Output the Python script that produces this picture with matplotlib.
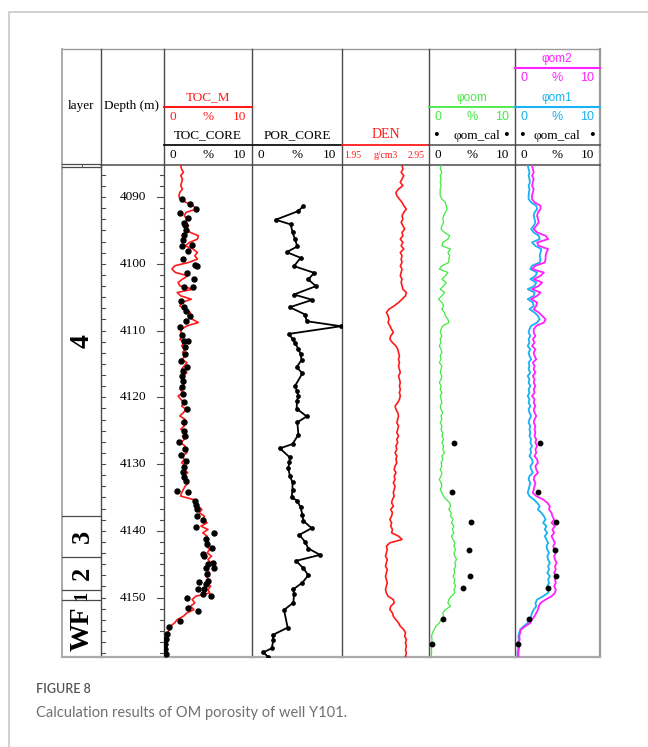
import numpy as np
import matplotlib
matplotlib.use('Agg')
import matplotlib.pyplot as plt

# ---------------- data ----------------
# common sampling depths for the log curves (m)
depth_grid = np.round(4085.3 + 0.5 * np.arange(148), 2)

toc_m = [1.9,2.0,2.2,1.9,2.1,2.0,1.9,2.1,1.8,1.7,
         1.8,2.5,3.3,3.7,2.5,2.3,2.6,2.4,2.8,2.5,
         3.0,3.9,3.8,2.9,2.4,3.3,3.8,3.5,3.8,2.8,
         1.2,0.9,1.3,2.7,2.1,1.6,1.8,3.3,1.5,1.9,
         3.1,2.0,1.8,2.4,3.0,2.7,3.2,3.9,2.6,2.0,
         1.9,2.2,1.8,2.3,2.0,2.4,2.1,2.5,2.0,2.6,
         2.3,2.0,2.6,2.2,2.0,2.4,2.1,1.8,2.2,1.6,
         1.9,2.3,2.0,2.5,2.2,1.8,2.4,2.0,2.3,1.9,
         2.5,2.1,2.3,1.9,2.4,2.2,2.6,2.1,2.3,2.0,
         2.5,2.3,2.7,2.2,2.5,2.8,2.4,2.2,2.0,1.9,
         3.3,3.6,3.9,4.3,4.0,4.6,4.4,4.9,4.2,5.0,
         4.4,4.9,4.6,5.1,4.8,5.2,4.9,5.4,5.0,5.3,
         5.1,4.9,5.2,4.8,5.1,4.9,5.3,5.0,5.2,3.6,
         3.2,3.5,3.0,3.4,2.6,2.2,1.5,1.2,0.7,0.6,
         0.4,0.3,0.4,0.2,0.35,0.2,0.3,0.2]

toc_core_depth = [4090.35,4091.1,4091.8,4092.4,4093.1,4093.85,4094.25,4095.0,4095.75,4096.5,
                  4097.15,4097.35,4098.1,4099.35,4100.25,4100.4,4101.4,4102.25,4103.5,4103.5,
                  4105.5,4106.5,4107.1,4107.75,4108.5,4109.5,4110.6,4111.5,4111.6,4112.5,
                  4113.5,4114.5,4115.4,4116.1,4116.75,4117.5,4118.5,4119.5,4120.75,4121.75,
                  4123.75,4125.0,4125.75,4126.75,4127.75,4128.6,4129.5,4130.5,4131.25,4131.9,
                  4132.5,4134.0,4134.25,4135.6,4136.1,4136.75,4137.75,4138.4,4139.5,4140.35,
                  4141.25,4142.0,4142.5,4143.5,4143.75,4144.75,4144.9,4145.5,4145.5,4146.4,
                  4147.5,4147.6,4148.0,4148.75,4148.75,4149.4,4149.75,4150.0,4151.5,4152.0,
                  4153.5,4154.35,4155.5,4156.25,4157.0,4157.75,4158.5]
toc_core = [2.01,2.95,3.64,1.82,2.77,2.27,2.39,2.5,2.27,2.2,
            3.14,2.05,2.7,2.2,3.52,3.79,2.58,3.41,2.27,3.33,
            1.89,2.31,2.5,2.95,2.5,1.82,2.05,2.27,2.77,2.39,
            2.42,1.93,2.61,2.2,2.01,2.2,2.01,2.2,2.27,2.65,
            2.27,2.27,2.39,1.70,2.39,1.93,2.5,2.27,2.2,2.27,
            2.5,1.44,2.77,3.52,3.64,3.71,3.79,4.47,3.64,5.68,
            4.73,4.85,5.42,4.39,4.55,5.61,5.04,4.77,5.68,4.85,
            5.04,4.02,4.73,3.9,4.55,4.39,5.3,2.58,2.77,3.9,
            1.82,0.61,0.3,0.23,0.11,0.11,0.23]

por_depth = [4091.35,4092.1,4093.4,4094.1,4095.25,4096.35,4097.4,4098.25,4099.1,4100.35,
             4101.35,4102.35,4103.35,4104.6,4105.4,4106.5,4107.6,4108.6,4109.35,4110.5,
             4111.25,4111.9,4112.75,4113.5,4114.4,4115.5,4116.4,4118.25,4119.0,4119.75,
             4120.5,4121.7,4122.85,4123.75,4125.6,4127.0,4127.65,4129.0,4129.7,4130.6,
             4131.75,4132.75,4133.9,4135.0,4135.5,4136.5,4137.6,4138.5,4139.6,4140.6,
             4141.65,4142.65,4143.6,4144.5,4145.6,4146.65,4147.75,4148.75,4149.5,4150.75,
             4151.85,4154.5,4155.6,4156.4,4157.6,4158.2,4158.9]
por_core = [5.7,5.15,2.63,4.3,4.5,4.78,5.04,3.85,5.4,4.67,
            6.9,6.26,7.1,4.67,6.7,4.2,5.9,6.07,9.9,4.1,
            4.5,4.8,5.15,5.4,5.5,4.96,5.6,4.8,4.96,5.15,
            5.0,4.96,6.07,5.04,5.15,4.5,3.1,4.2,4.15,4.04,
            4.2,4.5,4.5,4.4,5.04,5.4,5.6,5.7,6.63,5.26,
            5.9,6.26,7.56,4.9,5.7,6.26,5.6,4.6,4.67,4.6,
            3.56,3.96,2.3,2.37,2.19,1.26,1.8]

den = [2.64,2.65,2.63,2.66,2.64,2.62,2.65,2.60,2.57,2.58,
       2.61,2.64,2.66,2.69,2.66,2.64,2.65,2.63,2.65,2.67,
       2.64,2.65,2.62,2.65,2.63,2.66,2.62,2.64,2.63,2.64,
       2.62,2.64,2.63,2.62,2.64,2.63,2.64,2.65,2.69,2.68,
       2.64,2.60,2.55,2.49,2.46,2.48,2.49,2.48,2.50,2.52,
       2.54,2.51,2.50,2.53,2.57,2.59,2.60,2.61,2.60,2.61,
       2.60,2.61,2.62,2.60,2.61,2.62,2.61,2.62,2.61,2.62,
       2.61,2.59,2.56,2.57,2.59,2.60,2.59,2.58,2.60,2.59,
       2.58,2.60,2.58,2.59,2.57,2.58,2.56,2.58,2.57,2.58,
       2.56,2.55,2.57,2.55,2.56,2.54,2.56,2.55,2.54,2.55,
       2.53,2.52,2.54,2.51,2.53,2.52,2.50,2.52,2.51,2.53,
       2.52,2.60,2.64,2.50,2.46,2.47,2.46,2.45,2.47,2.46,
       2.45,2.47,2.46,2.45,2.46,2.47,2.46,2.45,2.46,2.48,
       2.54,2.55,2.51,2.50,2.53,2.54,2.57,2.60,2.62,2.66,
       2.68,2.67,2.69,2.68,2.69,2.68,2.69,2.68]

phi_oom = [1.4,1.3,1.5,1.3,1.4,1.3,1.4,1.3,1.3,1.3,
           1.5,1.9,2.0,2.1,1.9,1.7,1.6,1.7,1.5,1.4,
           1.8,2.4,2.2,1.6,1.5,2.5,2.2,2.4,2.3,2.3,
           1.5,1.2,2.2,1.9,1.5,2.0,1.7,1.3,1.8,1.5,
           1.1,1.5,1.7,1.5,1.8,1.9,2.2,2.3,1.6,1.4,
           1.3,1.5,1.3,1.4,1.2,1.4,1.5,1.3,1.4,1.2,
           1.5,1.4,1.3,1.5,1.4,1.2,1.4,1.3,1.5,1.3,
           1.4,1.5,1.3,1.4,1.6,1.4,1.5,1.3,1.5,1.4,
           1.6,1.5,1.7,1.5,1.7,1.6,1.8,1.5,1.6,1.4,
           1.5,1.3,1.5,1.4,1.2,1.4,1.5,1.3,1.5,1.7,
           2.0,2.4,2.5,2.3,2.6,2.5,2.8,2.6,2.9,2.7,
           2.9,2.6,2.8,3.0,2.9,3.1,2.9,3.0,3.2,3.0,
           3.1,2.9,3.0,2.8,3.0,2.9,3.1,2.9,3.0,2.6,
           2.3,2.2,2.5,1.9,1.6,1.7,1.4,1.2,0.8,0.6,
           0.4,0.3,0.35,0.3,0.25,0.3,0.3,0.25]

phi_om1 = [1.5,1.6,1.7,1.6,1.7,1.75,1.6,1.7,1.65,1.6,
           1.6,1.9,2.5,2.6,2.3,2.2,2.3,2.4,2.2,1.9,
           2.2,2.8,2.9,2.0,2.4,3.1,3.0,2.9,3.0,2.9,
           2.0,1.8,2.6,2.4,1.8,2.5,2.3,1.5,2.3,2.2,
           1.5,2.1,2.2,1.7,2.3,2.7,2.9,2.6,1.9,1.7,
           1.6,1.8,1.6,1.7,1.5,1.8,1.6,1.7,1.9,1.6,
           1.7,1.6,1.8,1.5,1.7,1.6,1.8,1.6,1.7,1.5,
           1.7,1.6,1.8,1.6,1.7,1.9,1.7,1.6,1.8,1.7,
           1.8,1.7,1.9,1.8,2.0,1.8,1.9,1.7,2.0,2.1,
           1.8,1.9,2.1,1.7,1.6,1.8,1.7,1.6,1.5,1.7,
           2.2,2.6,2.9,2.7,3.1,3.4,3.6,3.3,3.7,3.5,
           3.8,3.5,3.7,3.9,3.7,3.8,4.0,3.8,3.9,4.1,
           3.9,4.0,3.8,4.1,3.9,4.0,3.8,4.0,3.9,3.3,
           2.6,2.4,2.5,2.2,2.0,1.9,1.6,1.5,1.0,0.6,
           0.5,0.4,0.45,0.3,0.4,0.35,0.3,0.3]

phi_om2 = [2.0,2.1,2.2,2.0,2.2,2.1,2.0,2.2,2.1,2.0,
           2.0,2.3,3.0,3.0,2.7,2.6,2.7,2.8,2.5,2.2,
           2.6,3.6,3.9,2.6,2.8,3.9,3.7,3.6,3.6,3.5,
           2.4,2.0,3.4,3.0,2.2,3.2,2.8,2.0,3.0,2.6,
           1.9,2.6,2.5,2.2,2.8,3.2,3.6,3.4,2.5,2.2,
           2.2,2.4,2.1,2.3,2.0,2.4,2.2,2.3,2.5,2.1,
           2.3,2.2,2.4,2.1,2.3,2.2,2.4,2.2,2.3,2.0,
           2.3,2.2,2.4,2.2,2.3,2.5,2.3,2.2,2.4,2.3,
           2.4,2.3,2.5,2.4,2.6,2.4,2.5,2.3,2.6,2.7,
           2.4,2.5,2.7,2.3,2.2,2.4,2.3,2.2,2.1,2.5,
           3.3,3.8,4.1,4.0,4.3,4.4,4.6,4.3,4.7,4.4,
           4.6,4.3,4.5,4.7,4.5,4.6,4.8,4.6,4.7,4.9,
           4.7,4.8,4.6,4.9,4.7,4.8,4.6,4.8,4.7,4.3,
           3.6,3.0,2.8,2.7,2.5,2.3,2.0,1.8,1.2,0.7,
           0.6,0.5,0.55,0.4,0.5,0.45,0.4,0.4]

cal_depth = [4126.9, 4134.25, 4138.75, 4142.9, 4146.75, 4148.5, 4153.25, 4157.0]
phi_om_cal = [2.91, 2.71, 4.84, 4.65, 4.77, 3.91, 1.66, 0.39]

layer_bounds = [4085.2, 4137.8, 4143.9, 4148.9, 4150.4, 4158.9]
layer_names = ['4', '3', '2', '1', 'WF']
layer_sizes = [20, 19, 19, 13, 20]

depth_major = [4090, 4100, 4110, 4120, 4130, 4140, 4150]
DMIN, DMAX = 4085.2, 4158.9

# ---------------- layout ----------------
W, H = 648, 747
fig = plt.figure(figsize=(W / 100, H / 100), dpi=100)
SERIF = 'Liberation Serif'
SANS = 'Liberation Sans'
RED = '#ff1a1a'
GREEN = '#44e844'
CYAN = '#1ab2f0'
MAG = '#ff22ff'
LINE = '#4a4a4a'

Y_TOP, Y_HDR, Y_BOT = 49, 165, 657
X_COLS = [62, 101, 164, 252, 342, 429, 515, 600]

ov = fig.add_axes([0, 0, 1, 1])
ov.set_xlim(0, W)
ov.set_ylim(H, 0)
ov.axis('off')

# card frame
ov.plot([9, 9, W], [H, 12, 12], color='#c8c8c8', lw=1.2, solid_capstyle='butt')

# table grid
ov.plot([X_COLS[0], X_COLS[-1]], [Y_TOP, Y_TOP], color='#9a9a9a', lw=1.0)
for x in X_COLS[1:-1]:
    ov.plot([x, x], [Y_TOP, Y_BOT], color=LINE, lw=1.0)
ov.plot([X_COLS[0], X_COLS[0]], [Y_TOP, Y_BOT], color='#aaaaaa', lw=1.4)
ov.plot([X_COLS[-1], X_COLS[-1]], [Y_TOP, Y_BOT], color='#999999', lw=1.6)
ov.plot([X_COLS[0], X_COLS[-1]], [Y_BOT, Y_BOT], color='#aaaaaa', lw=1.6)
ov.plot([X_COLS[1], X_COLS[-1]], [Y_HDR, Y_HDR], color=LINE, lw=1.1)
ov.plot([X_COLS[0], X_COLS[1]], [Y_HDR - 1.5, Y_HDR - 1.5], color=LINE, lw=0.9)
ov.plot([X_COLS[0], X_COLS[1]], [Y_HDR + 1.5, Y_HDR + 1.5], color=LINE, lw=0.9)
ov.plot([82, 82], [Y_HDR - 1.5, Y_HDR + 1.5], color=LINE, lw=0.6)

# scale separator lines in header
ov.plot([164, 342], [145, 145], color='#111111', lw=1.3)
ov.plot([342, 429], [145, 145], color=RED, lw=1.3)
ov.plot([429, 600], [145, 145], color=LINE, lw=1.1)
ov.plot([164, 252], [107, 107], color=RED, lw=1.5)
ov.plot([429, 515], [107, 107], color=GREEN, lw=1.3)
ov.plot([515, 600], [107, 107], color=CYAN, lw=1.5)
ov.plot([515, 600], [68, 68], color=MAG, lw=1.5)

def txt(x, y, s, color='black', size=9.5, family=SERIF, ha='center', **kw):
    ov.text(x, y, s, color=color, fontsize=size, family=family, ha=ha, va='center', **kw)

def scale(x0, x1, y, color, family=SERIF, size=9.5, unit='%', left='0', right='10'):
    txt(x0 + 9, y, left, color, size, family)
    txt((x0 + x1) / 2, y, unit, color, size, family)
    txt(x1 - 13, y, right, color, size, family)

txt(81, 106, 'layer', size=9.5)
txt(132, 106, 'Depth (m)', size=9.5)

txt(208, 97, 'TOC_M', RED)
scale(164, 252, 117, RED)
txt(208, 135, 'TOC_CORE')
scale(164, 252, 155, 'black')

txt(297, 135, 'POR_CORE')
scale(252, 342, 155, 'black')

txt(386, 135, 'DEN', RED, size=10)
txt(353, 155.5, '1.95', RED, size=7)
txt(386, 155.5, 'g/cm3', RED, size=7)
txt(416, 155.5, '2.95', RED, size=7)

txt(472, 98.5, 'φoom', GREEN, family=SANS, size=8.5)
scale(429, 515, 117.5, GREEN, family=SANS, size=9)
txt(436, 136, '•', size=12)
txt(477, 136, 'φom_cal', size=9.5)
txt(506, 136, '•', size=12)
scale(429, 515, 155, 'black')

txt(557, 59, 'φom2', MAG, family=SANS, size=8.5)
scale(515, 600, 78, MAG, family=SANS, size=9)
txt(557, 98.5, 'φom1', CYAN, family=SANS, size=8.5)
scale(515, 600, 117.5, CYAN, family=SANS, size=9)
txt(522.5, 136, '•', size=12)
txt(557, 136, 'φom_cal', size=9.5)
txt(592, 136, '•', size=12)
scale(515, 600, 155, 'black')

# caption
ov.text(36, 689, 'FIGURE 8', fontsize=9, family='Lato', color='#555555',
        ha='left', va='center', fontweight='semibold')
ov.text(36, 713, 'Calculation results of OM porosity of well Y101.', fontsize=10.5,
        family='Lato', color='#707070', ha='left', va='center')

# ---------------- data tracks ----------------
def track(x0, x1, xlim):
    ax = fig.add_axes([x0 / W, 1 - Y_BOT / H, (x1 - x0) / W, (Y_BOT - Y_HDR) / H])
    ax.set_xlim(*xlim)
    ax.set_ylim(DMAX, DMIN)
    ax.axis('off')
    return ax

# layer column
ax_l = track(62, 101, (62, 101))
for b in layer_bounds[1:-1]:
    ax_l.plot([62, 101], [b, b], color=LINE, lw=0.9)
for i, name in enumerate(layer_names):
    mid = (layer_bounds[i] + layer_bounds[i + 1]) / 2
    ax_l.text(82, mid, name, rotation=90, ha='center', va='center', family=SERIF,
              fontweight='bold', fontsize=layer_sizes[i])

# depth column
ax_d = track(101, 164, (101, 164))
minor = np.arange(4090 - 3 * 10 / 6, DMAX, 10 / 6)
for d in minor:
    major = abs(d - round(d / 10) * 10) < 0.05
    ax_d.plot([101, 105], [d, d], color=LINE, lw=0.8)
    ax_d.plot([164 - (7 if major else 4), 164], [d, d], color=LINE, lw=0.8)
for d in depth_major:
    ax_d.text(133, d, str(d), ha='center', va='center', family=SERIF, fontsize=9.5)

# TOC track
ax_t = track(164, 252, (0, 10))
ax_t.plot(toc_m, depth_grid, color=RED, lw=1.2)
ax_t.plot(toc_core, toc_core_depth, 'o', color='black', ms=3.6)

# POR track
ax_p = track(252, 342, (0, 10))
ax_p.plot(por_core, por_depth, '-o', color='black', lw=1.3, ms=2.4)

# DEN track
ax_n = track(342, 429, (1.95, 2.95))
ax_n.plot(den, depth_grid, color=RED, lw=1.2)

# phi_oom track
ax_o = track(429, 515, (0, 10))
ax_o.plot(phi_oom, depth_grid, color=GREEN, lw=0.9)
ax_o.plot(phi_om_cal, cal_depth, 'o', color='black', ms=3.2)

# phi_om track
ax_m = track(515, 600, (0, 10))
ax_m.plot(phi_om1, depth_grid, color=CYAN, lw=1.3)
ax_m.plot(phi_om2, depth_grid, color=MAG, lw=1.3)
ax_m.plot(phi_om_cal, cal_depth, 'o', color='black', ms=3.2)

fig.savefig('out.png', dpi=100)
